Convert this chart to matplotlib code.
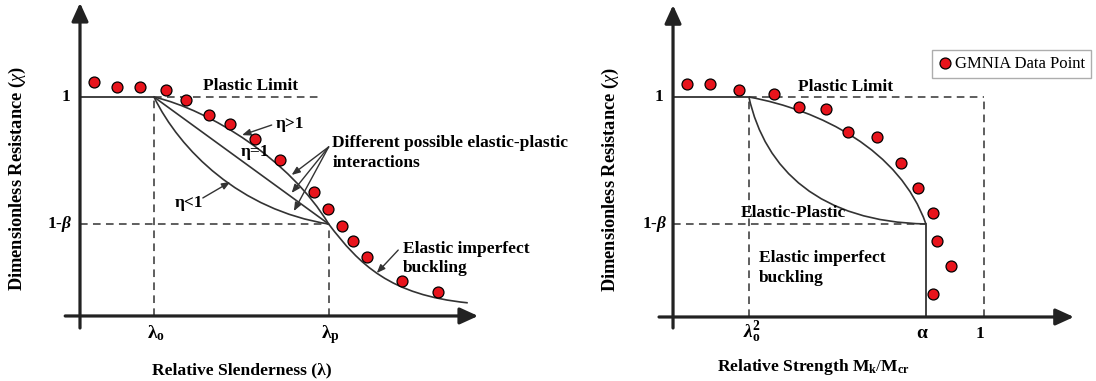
import matplotlib
matplotlib.use('Agg')
import matplotlib.pyplot as plt
from matplotlib.path import Path
from matplotlib.patches import PathPatch

plt.rcParams['font.family'] = ['Liberation Serif', 'DejaVu Serif']
plt.rcParams['mathtext.fontset'] = 'custom'
plt.rcParams['mathtext.rm'] = 'Liberation Serif'
plt.rcParams['mathtext.it'] = 'Liberation Serif:italic'
plt.rcParams['mathtext.bf'] = 'Liberation Serif:bold'
if 'mathtext.bfit' in plt.rcParams:
    plt.rcParams['mathtext.bfit'] = 'Liberation Serif:italic:bold'

# ---------------- data (schematic units) ----------------
# Left panel: relative slenderness (lambda_o = 1)
left_lam_o = 1.0
left_lam_p = 3.36
left_one_minus_beta = 0.42
left_plastic_end = 3.23
left_pts_x = [0.19, 0.50, 0.81, 1.16, 1.43, 1.74, 2.03, 2.36, 2.70, 3.16, 3.35, 3.54, 3.69, 3.88, 4.35, 4.84]
left_pts_y = [1.068, 1.046, 1.046, 1.032, 0.986, 0.918, 0.877, 0.808, 0.712, 0.566, 0.489, 0.411, 0.342, 0.269, 0.160, 0.110]
left_upper_ctrl = [(1.0, 1.0), (1.76, 0.94), (2.84, 0.712), (3.36, 0.42)]
left_lower_ctrl = [(1.0, 1.0), (1.35, 0.758), (2.16, 0.484), (3.36, 0.42)]
left_elastic_ctrl = [(3.36, 0.42), (3.78, 0.233), (4.19, 0.096), (5.24, 0.06)]

# Right panel: relative strength Mk/Mcr
right_lam_o2 = 0.244
right_alpha = 0.813
right_one = 1.0
right_one_minus_beta = 0.423
right_pts_x = [0.045, 0.119, 0.212, 0.325, 0.405, 0.492, 0.563, 0.656, 0.733, 0.788, 0.836, 0.849, 0.894, 0.836]
right_pts_y = [1.059, 1.059, 1.032, 1.014, 0.955, 0.945, 0.841, 0.818, 0.700, 0.586, 0.473, 0.345, 0.232, 0.105]
right_upper_ctrl = [(0.244, 1.0), (0.473, 0.941), (0.730, 0.759), (0.813, 0.423)]
right_lower_ctrl = [(0.244, 1.0), (0.296, 0.668), (0.473, 0.432), (0.813, 0.423)]

# ---------------- styles ----------------
LC = '#333333'
DOT = '#e8141c'
FS = 12.5

fig = plt.figure(figsize=(10.96, 3.81), dpi=100)
fig.patch.set_facecolor('white')


def bez(ax, pts, **kw):
    codes = [Path.MOVETO, Path.CURVE4, Path.CURVE4, Path.CURVE4]
    ax.add_patch(PathPatch(Path(pts, codes), fill=False, edgecolor=LC, lw=1.2, **kw))


def axis_arrows(ax, x0, x1, y0, y1):
    st = '-|>,head_length=0.55,head_width=0.25'
    ax.annotate('', xy=(x1, 0), xytext=(x0, 0),
                arrowprops=dict(arrowstyle=st, lw=2.3, color='#222222', mutation_scale=20,
                                shrinkA=0, shrinkB=0))
    ax.annotate('', xy=(0, y1), xytext=(0, y0),
                arrowprops=dict(arrowstyle=st, lw=2.3, color='#222222', mutation_scale=20,
                                shrinkA=0, shrinkB=0))


def arrow(ax, start, end):
    ax.annotate('', xy=end, xytext=start,
                arrowprops=dict(arrowstyle='-|>,head_length=0.5,head_width=0.2', lw=1.0,
                                color=LC, mutation_scale=10, shrinkA=0, shrinkB=0))


dash = dict(color=LC, lw=1.1, ls=(0, (5, 3.5)))
bold = dict(fontsize=FS, fontweight='bold')
tick = dict(fontsize=12.5, fontweight='bold')

# ================= LEFT =================
axL = fig.add_axes([0, 0, 548 / 1096, 1])
axL.set_xlim(-1.081, 6.324)
axL.set_ylim(-0.297, 1.443)
axL.axis('off')

axis_arrows(axL, -0.20, 5.38, -0.055, 1.43)
axL.plot([0, left_lam_o], [1, 1], color=LC, lw=1.3)
axL.plot([left_lam_o, left_plastic_end], [1, 1], **dash)
axL.plot([left_lam_o, left_lam_o], [0, 1], **dash)
axL.plot([0, left_lam_p], [left_one_minus_beta] * 2, **dash)
axL.plot([left_lam_p, left_lam_p], [0, left_one_minus_beta], **dash)
bez(axL, left_upper_ctrl)
bez(axL, left_lower_ctrl)
axL.plot([left_lam_o, left_lam_p], [1, left_one_minus_beta], color=LC, lw=1.2)
bez(axL, left_elastic_ctrl)
axL.scatter(left_pts_x, left_pts_y, s=62, color=DOT, edgecolors='black', linewidths=0.9, zorder=5)

axL.text(2.30, 1.05, 'Plastic Limit', ha='center', va='center', **bold)
axL.text(2.84, 0.877, 'η>1', ha='center', va='center', **bold)
arrow(axL, (2.59, 0.872), (2.19, 0.826))
axL.text(2.36, 0.749, 'η=1', ha='center', va='center', **bold)
axL.text(1.47, 0.516, 'η<1', ha='center', va='center', **bold)
arrow(axL, (1.66, 0.539), (2.03, 0.612))
axL.text(3.41, 0.745, 'Different possible elastic-plastic\ninteractions', ha='left', va='center',
         linespacing=1.3, **bold)
for tgt in [(2.86, 0.644), (2.86, 0.562), (2.89, 0.479)]:
    arrow(axL, (3.36, 0.772), tgt)
axL.text(4.36, 0.262, 'Elastic imperfect\nbuckling', ha='left', va='center', linespacing=1.3, **bold)
arrow(axL, (4.30, 0.301), (4.01, 0.196))

axL.text(-0.13, 1.0, '1', ha='right', va='center', **tick)
axL.text(-0.11, left_one_minus_beta, r'1-$\mathbfit{\beta}$', ha='right', va='center', **tick)
axL.text(left_lam_o + 0.03, -0.10, r'$\mathbf{\lambda}_{\mathbf{o}}$', ha='center', va='baseline', fontsize=14)
axL.text(left_lam_p + 0.03, -0.10, r'$\mathbf{\lambda}_{\mathbf{p}}$', ha='center', va='baseline', fontsize=14)
axL.text(2.19, -0.247, 'Relative Slenderness (λ)', ha='center', va='center', fontsize=12.6, fontweight='bold')
axL.text(-0.85, 0.625, r'Dimensionless Resistance ($\chi$)', ha='center', va='center', rotation=90,
         fontsize=13.2, fontweight='bold')

# ================= RIGHT =================
axR = fig.add_axes([548 / 1096, 0, 548 / 1096, 1])
axR.set_xlim(-0.402, 1.360)
axR.set_ylim(-0.291, 1.441)
axR.axis('off')

axis_arrows(axR, -0.045, 1.289, -0.05, 1.418)
axR.plot([0, right_lam_o2], [1, 1], color=LC, lw=1.3)
axR.plot([right_lam_o2, right_one], [1, 1], **dash)
axR.plot([right_one, right_one], [0, 1], **dash)
axR.plot([right_lam_o2, right_lam_o2], [0, 1], **dash)
axR.plot([0, right_alpha], [right_one_minus_beta] * 2, **dash)
axR.plot([right_alpha, right_alpha], [0, right_one_minus_beta], color=LC, lw=1.3)
bez(axR, right_upper_ctrl)
bez(axR, right_lower_ctrl)
sc = axR.scatter(right_pts_x, right_pts_y, s=62, color=DOT, edgecolors='black', linewidths=0.9, zorder=5,
                 label='GMNIA Data Point')

axR.text(0.556, 1.045, 'Plastic Limit', ha='center', va='center', **bold)
axR.text(0.386, 0.473, 'Elastic-Plastic', ha='center', va='center', **bold)
axR.text(0.277, 0.222, 'Elastic imperfect\nbuckling', ha='left', va='center', linespacing=1.3, **bold)
axR.text(-0.03, 1.0, '1', ha='right', va='center', **tick)
axR.text(-0.018, right_one_minus_beta, r'1-$\mathbfit{\beta}$', ha='right', va='center', **tick)
axR.text(right_lam_o2 + 0.01, -0.095, r'$\mathbfit{\lambda}_{\mathbf{o}}^{\mathbf{2}}$', ha='center',
         va='baseline', fontsize=14)
axR.text(right_alpha - 0.01, -0.095, r'$\mathbf{\alpha}$', ha='center', va='baseline', fontsize=14)
axR.text(right_one - 0.013, -0.095, '1', ha='center', va='baseline', **tick)
axR.text(0.453, -0.227, r'Relative Strength $\mathbf{M}_{\mathbf{k}}/\mathbf{M}_{\mathbf{cr}}$', ha='center',
         va='center', fontsize=12.6, fontweight='bold')
axR.text(-0.20, 0.625, r'Dimensionless Resistance ($\chi$)', ha='center', va='center', rotation=90,
         fontsize=13.2, fontweight='bold')

leg = axR.legend(handles=[sc], loc='upper left', bbox_to_anchor=(932 / 1096, 1 - 50 / 381),
                 bbox_transform=fig.transFigure, fancybox=False, frameon=True, borderaxespad=0,
                 fontsize=12, handletextpad=0.15, handlelength=0.9, borderpad=0.35, edgecolor='#999999',
                 scatterpoints=1)
leg.get_frame().set_linewidth(1.0)

fig.savefig('out.png', dpi=100, facecolor='white')
